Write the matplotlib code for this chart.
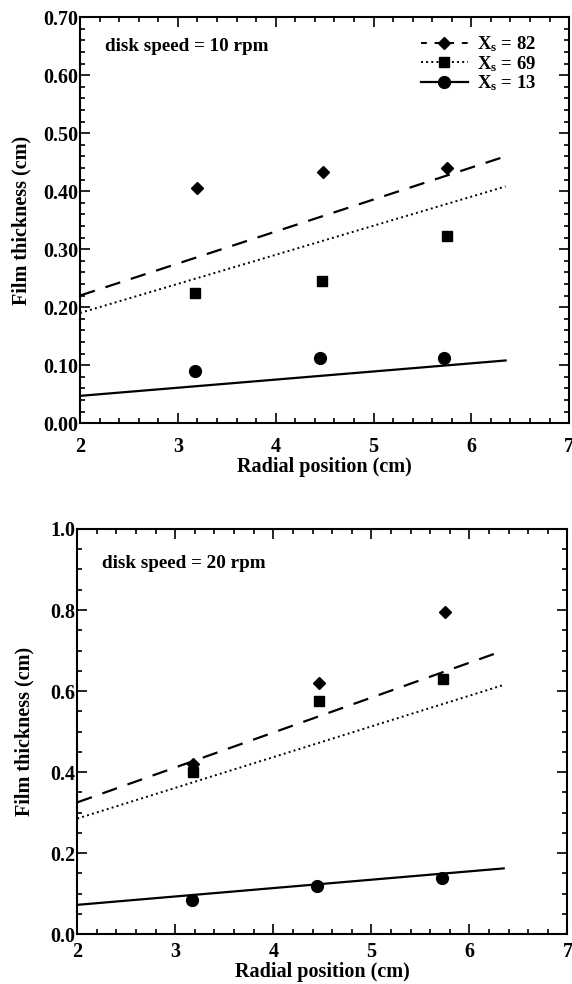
import matplotlib
matplotlib.use("Agg")
import matplotlib.pyplot as plt
from matplotlib.ticker import MultipleLocator, FormatStrFormatter

plt.rcParams['font.family'] = ['Liberation Serif', 'DejaVu Serif']
plt.rcParams['font.weight'] = 'bold'
plt.rcParams['mathtext.fontset'] = 'custom'
plt.rcParams['mathtext.rm'] = 'Liberation Serif:bold'
plt.rcParams['mathtext.it'] = 'Liberation Serif:bold'

# measured points, 10 rpm
r10_82 = [3.20, 4.48, 5.75]
h10_82 = [0.405, 0.433, 0.440]
r10_69 = [3.18, 4.47, 5.75]
h10_69 = [0.225, 0.245, 0.322]
r10_13 = [3.18, 4.45, 5.72]
h10_13 = [0.090, 0.113, 0.112]

# model lines, 10 rpm
r_model = [2.0, 6.35]
m10_82 = [0.220, 0.460]
m10_69 = [0.190, 0.408]
m10_13 = [0.047, 0.108]

# measured points, 20 rpm
r20_82 = [3.18, 4.47, 5.75]
h20_82 = [0.420, 0.620, 0.795]
r20_69 = [3.18, 4.47, 5.73]
h20_69 = [0.400, 0.575, 0.630]
r20_13 = [3.17, 4.45, 5.72]
h20_13 = [0.085, 0.118, 0.138]

# model lines, 20 rpm
m20_82 = [0.325, 0.700]
m20_69 = [0.285, 0.615]
m20_13 = [0.072, 0.162]

fig = plt.figure(figsize=(5.72, 9.84), dpi=100)
ax1 = fig.add_axes([0.140, 0.570, 0.855, 0.4126])
ax2 = fig.add_axes([0.135, 0.0508, 0.857, 0.4116])


def style(ax, ymax, ymajor, yminor, fmt, xpad, xlabpad, ylabpad):
    ax.set_xlim(2, 7)
    ax.set_ylim(0, ymax)
    ax.xaxis.set_major_locator(MultipleLocator(1))
    ax.xaxis.set_minor_locator(MultipleLocator(0.2))
    ax.yaxis.set_major_locator(MultipleLocator(ymajor))
    ax.yaxis.set_minor_locator(MultipleLocator(yminor))
    ax.yaxis.set_major_formatter(FormatStrFormatter(fmt))
    ax.tick_params(which='both', direction='in', top=True, right=True,
                   width=1.2, labelsize=14.5)
    ax.tick_params(which='major', length=7)
    ax.tick_params(which='minor', length=3.5)
    ax.tick_params(axis='x', which='major', pad=xpad)
    ax.tick_params(axis='y', which='major', pad=1.5)
    for s in ax.spines.values():
        s.set_linewidth(1.5)
    ax.set_xlabel('Radial position (cm)', fontsize=14.5, fontweight='bold', labelpad=xlabpad)
    ax.set_ylabel('Film thickness (cm)', fontsize=14.5, fontweight='bold', labelpad=ylabpad)


# top panel
ax1.plot(r_model, m10_82, 'k--', lw=1.6, dashes=(7, 5))
ax1.plot(r_model, m10_69, 'k:', lw=1.4)
ax1.plot(r_model, m10_13, 'k-', lw=1.6)
ax1.plot(r10_82, h10_82, 'kD', ms=6, ls='none')
ax1.plot(r10_69, h10_69, 'ks', ms=7, ls='none')
ax1.plot(r10_13, h10_13, 'ko', ms=8.5, ls='none')

h1, = ax1.plot([], [], 'k--', marker='D', ms=6, lw=1.4, dashes=(3, 4))
h2, = ax1.plot([], [], 'k:', marker='s', ms=7, lw=1.4)
h3, = ax1.plot([], [], 'k-', marker='o', ms=8.5, lw=1.6)
ax1.legend([h1, h2, h3], [r'X$_\mathrm{s}$ = 82', r'X$_\mathrm{s}$ = 69', r'X$_\mathrm{s}$ = 13'],
           loc='upper right', bbox_to_anchor=(0.96, 0.99), frameon=False,
           fontsize=13.5, handlelength=2.5, handletextpad=0.5, labelspacing=0.0,
           borderaxespad=0.3)
ax1.text(0.051, 0.948, 'disk speed = 10 rpm', transform=ax1.transAxes,
         fontsize=13.8, va='top', ha='left')
style(ax1, 0.70, 0.10, 0.02, '%.2f', xpad=10, xlabpad=0, ylabpad=8)

# bottom panel
ax2.plot(r_model, m20_82, 'k--', lw=1.6, dashes=(7, 5))
ax2.plot(r_model, m20_69, 'k:', lw=1.4)
ax2.plot(r_model, m20_13, 'k-', lw=1.6)
ax2.plot(r20_82, h20_82, 'kD', ms=6, ls='none')
ax2.plot(r20_69, h20_69, 'ks', ms=7, ls='none')
ax2.plot(r20_13, h20_13, 'ko', ms=8.5, ls='none')
ax2.text(0.051, 0.935, 'disk speed = 20 rpm', transform=ax2.transAxes,
         fontsize=13.8, va='top', ha='left')
style(ax2, 1.0, 0.2, 0.05, '%.1f', xpad=6, xlabpad=0, ylabpad=11)

fig.savefig('out.png', dpi=100)
